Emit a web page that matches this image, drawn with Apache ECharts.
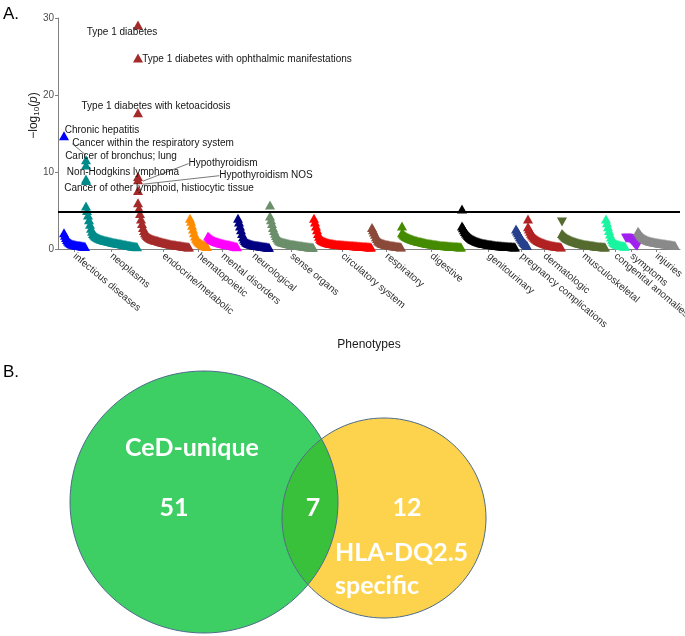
<!DOCTYPE html>
<html><head><meta charset="utf-8">
<script src="https://cdn.jsdelivr.net/npm/echarts@6/dist/echarts.min.js"></script>
<style>html,body{margin:0;padding:0;background:#fff}#c{width:685px;height:636px}</style>
</head><body><div id="c"></div>
<script>
// ---------- DATA ----------
const categories = ['infectious diseases','neoplasms','endocrine/metabolic','hematopoietic','mental disorders',
  'neurological','sense organs','circulatory system','respiratory','digestive','genitourinary',
  'pregnancy complications','dermatologic','musculoskeletal','congenital anomalies','symptoms','injuries'];
const categoryColors = ['#0000ff','#008b8b','#a52a2a','#ff8c00','#ff00ff','#000080','#6b8e6b','#ff0000',
  '#8b4a3a','#458b00','#000000','#27408b','#b22222','#556b2f','#19f5a0','#a020f0','#8a8a8a'];

// -log10(p) of the phenotypes in each category, in plotting order
const infectiousVals = [2.1,1.8,1.5,1.25,1.05,0.9,0.8,0.72,0.66,0.62,0.58,0.55,0.52,0.5,0.48,0.46,0.44,0.42,0.4,0.38,0.36,0.34];
const neoplasmsVals = [5.6,5.0,4.4,3.8,3.2,2.7,2.3,2.0,1.85,1.72,1.62,1.54,1.47,1.4,1.34,1.29,1.24,1.2,1.16,1.12,
  1.09,1.06,1.03,1.0,0.97,0.94,0.91,0.88,0.85,0.82,0.8,0.77,0.75,0.72,0.7,0.67,0.64,0.62,0.6,0.57,
  0.55,0.52,0.5,0.48,0.45,0.42,0.4,0.38,0.36,0.34,0.32,0.3];
const endocrineVals = [6.0,5.3,4.6,3.9,3.3,2.8,2.4,2.1,1.9,1.75,1.62,1.52,1.44,1.37,1.31,1.26,1.21,1.17,1.13,1.1,
  1.06,1.02,0.98,0.94,0.9,0.86,0.83,0.8,0.77,0.74,0.71,0.68,0.65,0.62,0.6,0.58,0.56,0.54,0.52,0.5,
  0.48,0.46,0.44,0.42,0.4,0.38,0.36,0.34,0.32,0.3,0.28,0.26];
const hematopoieticVals = [4.0,3.6,3.1,2.6,2.1,1.7,1.4,1.2,1.05,0.92,0.8,0.7,0.62,0.55,0.48,0.42,0.37,0.32];
const mentalVals = [1.7,1.55,1.42,1.32,1.24,1.17,1.1,1.04,0.99,0.94,0.9,0.86,0.82,0.78,0.75,0.72,0.69,0.66,0.63,0.6,
  0.57,0.54,0.51,0.48,0.45,0.42,0.39,0.36,0.33,0.3];
const neurologicalVals = [4.0,3.5,3.0,2.5,2.0,1.6,1.3,1.1,0.95,0.85,0.78,0.72,0.67,0.63,0.59,0.56,0.53,0.5,0.48,0.46,
  0.44,0.42,0.4,0.38,0.36,0.34,0.32,0.3,0.28,0.26,0.24,0.22];
const senseVals = [4.3,3.8,3.3,2.8,2.4,2.05,1.75,1.5,1.3,1.15,1.05,0.98,0.92,0.87,0.83,0.8,0.77,0.74,0.71,0.68,
  0.65,0.63,0.61,0.59,0.57,0.55,0.53,0.51,0.49,0.47,0.45,0.43,0.41,0.39,0.37,0.35,0.33,0.31,0.29,0.27,
  0.26,0.25,0.24,0.23];
const circulatoryVals = [4.0,3.5,3.0,2.5,2.0,1.65,1.4,1.25,1.15,1.07,1.0,0.95,0.9,0.86,0.82,0.79,0.76,0.73,0.7,0.68,
  0.66,0.64,0.62,0.6,0.59,0.58,0.57,0.56,0.55,0.54,0.53,0.52,0.51,0.5,0.49,0.48,0.47,0.46,0.45,0.44,
  0.43,0.42,0.41,0.4,0.39,0.38,0.37,0.36,0.35,0.34,0.33,0.32,0.31,0.3,0.29,0.28,0.27,0.26];
const respiratoryVals = [2.8,2.5,2.2,1.9,1.6,1.35,1.15,1.0,0.9,0.82,0.76,0.71,0.67,0.63,0.6,0.57,0.54,0.51,0.49,0.47,
  0.45,0.43,0.41,0.39,0.37,0.35,0.33,0.31,0.29,0.27];
const digestiveVals = [2.1,1.95,1.82,1.72,1.63,1.55,1.48,1.42,1.37,1.32,1.27,1.22,1.18,1.14,1.1,1.06,1.02,0.99,0.96,0.93,
  0.9,0.87,0.84,0.81,0.78,0.75,0.73,0.71,0.69,0.67,0.65,0.63,0.61,0.59,0.57,0.55,0.53,0.51,0.49,0.47,
  0.46,0.45,0.44,0.43,0.42,0.41,0.4,0.39,0.38,0.37,0.36,0.35,0.34,0.33,0.32,0.31,0.3,0.29,0.28,0.27];
const genitourinaryVals = [3.0,2.75,2.5,2.28,2.08,1.9,1.75,1.62,1.5,1.4,1.31,1.23,1.16,1.1,1.04,0.99,0.94,0.9,0.86,0.82,
  0.79,0.76,0.73,0.7,0.67,0.65,0.63,0.61,0.59,0.57,0.55,0.53,0.51,0.49,0.47,0.45,0.44,0.43,0.42,0.41,
  0.4,0.39,0.38,0.37,0.36,0.35,0.34,0.33,0.32,0.31,0.3,0.29,0.28,0.27];
const pregnancyVals = [2.6,2.35,2.1,1.85,1.6,1.4,1.2,1.0,0.85,0.7,0.55,0.45];
const dermatologicVals = [2.9,2.6,2.3,2.05,1.85,1.68,1.53,1.4,1.29,1.2,1.12,1.05,0.98,0.92,0.86,0.8,0.75,0.7,0.66,0.62,
  0.58,0.55,0.52,0.49,0.46,0.43,0.41,0.39,0.37,0.35,0.33,0.31,0.29,0.27];
const musculoskeletalVals = [2.0,1.85,1.72,1.6,1.5,1.41,1.33,1.26,1.2,1.14,1.08,1.03,0.98,0.94,0.9,0.86,0.82,0.78,0.75,0.72,
  0.69,0.66,0.63,0.6,0.58,0.56,0.54,0.52,0.5,0.48,0.46,0.44,0.42,0.4,0.38,0.36,0.34,0.33,0.32,0.31,
  0.3,0.29,0.28,0.27];
const congenitalVals = [3.9,3.4,2.9,2.4,1.95,1.55,1.25,1.0,0.85,0.75,0.68,0.62,0.58,0.54,0.5,0.47,0.44,0.41,0.38,0.35];
const symptomsVals = [1.4,1.4,1.38,1.35,1.3,1.2,1.05,0.9,0.75,0.6,0.45,0.35];
const injuriesVals = [2.3,2.1,1.9,1.72,1.58,1.47,1.38,1.3,1.23,1.17,1.12,1.07,1.03,0.99,0.96,0.93,0.9,0.87,0.85,0.83,
  0.81,0.79,0.77,0.75,0.73,0.71,0.69,0.67,0.65,0.63,0.61,0.59,0.57,0.55,0.53,0.51,0.49,0.47];

const categoryValues = [infectiousVals, neoplasmsVals, endocrineVals, hematopoieticVals, mentalVals,
  neurologicalVals, senseVals, circulatoryVals, respiratoryVals, digestiveVals, genitourinaryVals,
  pregnancyVals, dermatologicVals, musculoskeletalVals, congenitalVals, symptomsVals, injuriesVals];
// categories whose phenotypes have a negative direction of effect (down triangles)
const downCategories = ['symptoms'];

// top hits of each category (plotted at the category's first position)
const hitNames = ['Type 1 diabetes','Type 1 diabetes with ophthalmic manifestations','Type 1 diabetes with ketoacidosis',
  'Hypothyroidism','Hypothyroidism NOS','','Chronic hepatitis','Cancer within the respiratory system',
  'Cancer of bronchus; lung','Non-Hodgkins lymphoma','Cancer of other lymphoid, histiocytic tissue','','','','',''];
const hitCategory = ['endocrine/metabolic','endocrine/metabolic','endocrine/metabolic','endocrine/metabolic','endocrine/metabolic',
  'endocrine/metabolic','infectious diseases','neoplasms','neoplasms','neoplasms','neoplasms','sense organs','digestive',
  'genitourinary','dermatologic','musculoskeletal'];
const hitValues = [29.1,24.8,17.7,9.4,9.0,7.6,14.7,11.6,10.9,9.1,8.9,5.7,3.0,5.2,3.9,3.5];
const hitDown = [false,false,false,false,false,false,false,false,false,false,false,false,false,false,false,true];
const threshold = 4.78;

const yTicks = [0,10,20,30];

const vennLabels = ['CeD-unique','HLA-DQ2.5','specific'];
const vennCounts = [51,7,12];

// ---------- LAYOUT / STYLE (not data) ----------
const labelShift = {
  'Type 1 diabetes':[-16,7],
  'Type 1 diabetes with ophthalmic manifestations':[109,1],
  'Type 1 diabetes with ketoacidosis':[18,-6],
  'Hypothyroidism':[85,-13],
  'Hypothyroidism NOS':[128,-4],
  'Chronic hepatitis':[38,-6],
  'Cancer within the respiratory system':[67,-16],
  'Cancer of bronchus; lung':[35,-9],
  'Non-Hodgkins lymphoma':[37,-7],
  'Cancer of other lymphoid, histiocytic tissue':[73,8]
};
const withLine = ['Hypothyroidism','Hypothyroidism NOS','Cancer within the respiratory system'];
const markSize = [10, 9];

// ---------- BUILD ----------
const firstPos = 6;
const starts = []; const centers = [];
let pos = firstPos;
categoryValues.forEach((vals) => { starts.push(pos); centers.push(pos + (vals.length - 1) / 2); pos += vals.length; });

const series = categoryValues.map((vals, ci) => ({
  type: 'scatter', name: categories[ci], symbol: 'triangle', symbolSize: markSize,
  itemStyle: { color: categoryColors[ci], opacity: 1 },
  data: vals.map((v, k) => ({ value: [starts[ci] + k, v], symbolRotate: downCategories.includes(categories[ci]) ? 180 : 0 })),
  z: 2, silent: true
}));

series.push({
  type: 'scatter', symbol: 'triangle', symbolSize: markSize, z: 3, silent: true,
  itemStyle: { opacity: 1 },
  data: hitValues.map((v, i) => {
    const ci = categories.indexOf(hitCategory[i]);
    const nm = hitNames[i];
    return {
      value: [starts[ci], v], symbolRotate: hitDown[i] ? 180 : 0,
      itemStyle: { color: categoryColors[ci], opacity: 1 },
      label: { show: !!nm, formatter: nm },
      labelLine: { show: withLine.includes(nm) }
    };
  }),
  label: { position: 'inside', fontSize: 10, color: '#141414', fontFamily: 'Liberation Sans' },
  labelLine: { lineStyle: { color: '#555', width: 0.8 } },
  labelLayout: function (p) { const s = labelShift[hitNames[p.dataIndex]]; return s ? { dx: s[0], dy: s[1], hideOverlap: false } : {}; },
  markLine: { silent: true, symbol: 'none', label: { show: false }, lineStyle: { color: '#000', width: 2, type: 'solid' },
    data: [{ yAxis: threshold }] }
});

// Venn geometry
const G = { cx: 204, cy: 502, rx: 134, ry: 131 };
const Y = { cx: 384, cy: 518, rx: 102, ry: 100 };
function inside(e, x, y) { return ((x - e.cx) / e.rx) ** 2 + ((y - e.cy) / e.ry) ** 2 <= 1; }
const lens = [];
for (let i = 0; i <= 360; i++) { const t = -Math.PI / 2 + Math.PI * i / 360; const x = G.cx + G.rx * Math.cos(t), y = G.cy + G.ry * Math.sin(t); if (inside(Y, x, y)) lens.push([x, y]); }
for (let i = 0; i <= 360; i++) { const t = Math.PI / 2 + Math.PI * i / 360; const x = Y.cx + Y.rx * Math.cos(t), y = Y.cy + Y.ry * Math.sin(t); if (inside(G, x, y)) lens.push([x, y]); }

const vennFont = 'bold 25px Lato';
const graphic = [
  { type: 'text', x: 3, y: 6, style: { text: 'A.', font: '17px Liberation Sans', fill: '#000' } },
  { type: 'text', x: 3, y: 364, style: { text: 'B.', font: '17px Liberation Sans', fill: '#000' } },
  { type: 'ellipse', shape: G, style: { fill: '#3dce64' } },
  { type: 'ellipse', shape: Y, style: { fill: '#fdd34e' } },
  { type: 'polygon', shape: { points: lens }, style: { fill: '#39c13b' } },
  { type: 'ellipse', shape: G, style: { fill: 'none', stroke: '#4d6c8a', lineWidth: 1 } },
  { type: 'ellipse', shape: Y, style: { fill: 'none', stroke: '#4d6c8a', lineWidth: 1 } },
  { type: 'text', x: 192, y: 448, style: { text: vennLabels[0], font: vennFont, fill: '#fff', align: 'center', verticalAlign: 'middle' } },
  { type: 'text', x: 174, y: 508, style: { text: String(vennCounts[0]), font: vennFont, fill: '#fff', align: 'center', verticalAlign: 'middle' } },
  { type: 'text', x: 313, y: 508, style: { text: String(vennCounts[1]), font: vennFont, fill: '#fff', align: 'center', verticalAlign: 'middle' } },
  { type: 'text', x: 407, y: 508, style: { text: String(vennCounts[2]), font: vennFont, fill: '#fff', align: 'center', verticalAlign: 'middle' } },
  { type: 'text', x: 335, y: 553, style: { text: vennLabels[1], font: vennFont, fill: '#fff', align: 'left', verticalAlign: 'middle' } },
  { type: 'text', x: 335, y: 586, style: { text: vennLabels[2], font: vennFont, fill: '#fff', align: 'left', verticalAlign: 'middle' } }
];

const chart = echarts.init(document.getElementById('c'), null, { renderer: 'canvas' });
chart.setOption({
  animation: false,
  backgroundColor: '#fff',
  grid: { left: 58, right: 5, top: 18, bottom: 387, containLabel: false, outerBoundsMode: 'none' },
  xAxis: {
    type: 'value', min: 0, max: 622,
    name: 'Phenotypes', nameLocation: 'middle', nameGap: 90, nameMoveOverlap: false,
    nameTextStyle: { fontSize: 12, color: '#1a1a1a', fontFamily: 'Liberation Sans' },
    axisLine: { show: true, lineStyle: { color: '#808080', width: 1 } },
    axisTick: { show: true, length: 3, lineStyle: { color: '#808080' }, customValues: centers },
    axisLabel: { customValues: centers, rotate: -40, margin: 6, fontSize: 10, color: '#2e2e2e', fontFamily: 'Liberation Sans',
      formatter: function (v) { const i = centers.indexOf(v); return i >= 0 ? categories[i] : ''; } },
    splitLine: { show: false }
  },
  yAxis: {
    type: 'value', min: 0, max: 30, interval: 10,
    name: '{a|−log}{s|10}{a|(}{i|p}{a|)}', nameLocation: 'middle', nameGap: 17, nameMoveOverlap: false,
    nameTextStyle: { padding: [0, 0, 0, 36], rich: {
      a: { fontSize: 12, color: '#1a1a1a', fontFamily: 'Liberation Sans' },
      s: { fontSize: 8, color: '#1a1a1a', fontFamily: 'Liberation Sans', padding: [7, 0, 0, 0] },
      i: { fontSize: 12, color: '#1a1a1a', fontFamily: 'Liberation Sans', fontStyle: 'italic' } } },
    axisLine: { show: true, lineStyle: { color: '#808080', width: 1 } },
    axisTick: { show: true, length: 3, lineStyle: { color: '#808080' } },
    axisLabel: { fontSize: 10, color: '#4d4d4d', margin: 4, fontFamily: 'Liberation Sans' },
    splitLine: { show: false }
  },
  series: series,
  graphic: graphic
});
</script></body></html>
